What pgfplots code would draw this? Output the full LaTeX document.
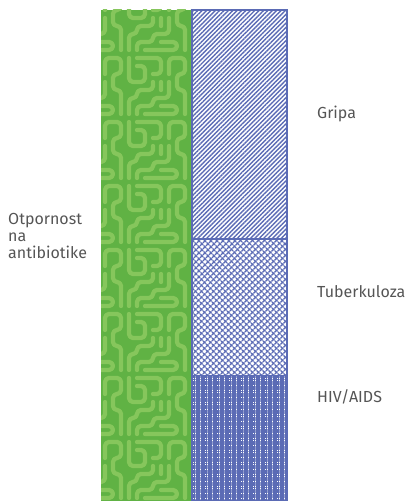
\documentclass[border=0pt]{standalone}
\usepackage{fontspec}
\setmainfont{Fira Sans}
\usepackage{pgfplots}
\pgfplotsset{compat=1.18}
\usetikzlibrary{patterns,patterns.meta}
\definecolor{dkgreen}{RGB}{96,178,68}
\definecolor{ltgreen}{RGB}{134,198,92}
\definecolor{blueC}{RGB}{91,107,181}
\definecolor{txtC}{RGB}{85,85,85}
\newcommand{\mz}[2]{\pgfqpoint{\dimexpr 8pt*#1+1pt\relax}{\dimexpr 8pt*#2+4pt\relax}}
\pgfdeclarepatternformonly{maze}{\pgfqpoint{-3pt}{-3pt}}{\pgfqpoint{67pt}{67pt}}{\pgfqpoint{64pt}{64pt}}{%
  \pgfsetlinewidth{4.3pt}\pgfsetroundcap\pgfsetroundjoin
  \pgfsetcornersarced{\pgfqpoint{4pt}{4pt}}%
  \pgfpathmoveto{\mz07}\pgfpathlineto{\mz04}\pgfpathlineto{\mz24}\pgfpathlineto{\mz26}\pgfpathlineto{\mz16}%
  \pgfpathmoveto{\mz17}\pgfpathlineto{\mz47}\pgfpathlineto{\mz45}\pgfpathlineto{\mz35}%
  \pgfpathmoveto{\mz00}\pgfpathlineto{\mz02}\pgfpathlineto{\mz12}\pgfpathlineto{\mz13}\pgfpathlineto{\mz33}\pgfpathlineto{\mz34}%
  \pgfpathmoveto{\mz10}\pgfpathlineto{\mz11}\pgfpathlineto{\mz31}\pgfpathlineto{\mz32}\pgfpathlineto{\mz52}\pgfpathlineto{\mz54}%
  \pgfpathmoveto{\mz20}\pgfpathlineto{\mz60}\pgfpathlineto{\mz61}\pgfpathlineto{\mz41}%
  \pgfpathmoveto{\mz70}\pgfpathlineto{\mz73}\pgfpathlineto{\mz63}\pgfpathlineto{\mz65}\pgfpathlineto{\mz75}\pgfpathlineto{\mz77}\pgfpathlineto{\mz57}\pgfpathlineto{\mz55}%
  \pgfpathmoveto{\mz43}\pgfpathlineto{\mz44}%
  \pgfusepath{stroke}%
}
\newcommand{\lab}{\fontsize{16}{17.5}\selectfont}
\begin{document}
\begin{tikzpicture}
\pgfplotsset{base/.style={hide axis, scale only axis, width=407pt, height=502pt,
  xmin=0, xmax=407, ymin=-1.3, ymax=500.7, clip=false}}
\begin{axis}[base, ybar, bar width=92]
\addplot[fill=dkgreen, draw=none, bar shift=0pt,
  postaction={pattern=maze, pattern color=ltgreen}] coordinates {(147,490.7)};
\node[anchor=base west, font=\lab, text=txtC, inner sep=0pt] at (axis cs:8,275.7) {Otpornost};
\node[anchor=base west, font=\lab, text=txtC, inner sep=0pt] at (axis cs:8,258.7) {na};
\node[anchor=base west, font=\lab, text=txtC, inner sep=0pt] at (axis cs:8,241.7) {antibiotike};
\node[anchor=base west, font=\lab, text=txtC, inner sep=0pt] at (axis cs:317,381.7) {Gripa};
\node[anchor=base west, font=\lab, text=txtC, inner sep=0pt] at (axis cs:317,202.7) {Tuberkuloza};
\node[anchor=base west, font=\lab, text=txtC, inner sep=0pt] at (axis cs:317,97.7) {HIV/AIDS};
\end{axis}
\begin{axis}[base, ybar stacked, bar width=95]
% HIV/AIDS
\addplot[draw=blueC, line width=1.5pt,
  preaction={pattern={Lines[angle=90,distance=2.4pt,line width=1.8pt]}, pattern color=blueC},
  pattern={Lines[angle=0,distance=2.4pt,line width=1.8pt]}, pattern color=blueC] coordinates {(239.5,125)};
% Tuberkuloza
\addplot[draw=blueC, line width=1.5pt,
  preaction={pattern={Lines[angle=-45,distance=4pt,line width=1.6pt]}, pattern color=blueC},
  pattern={Lines[angle=45,distance=4pt,line width=1.6pt]}, pattern color=blueC] coordinates {(239.5,136.7)};
% Gripa
\addplot[draw=blueC, line width=1.5pt,
  pattern={Lines[angle=45,distance=3.1pt,line width=1.4pt]}, pattern color=blueC] coordinates {(239.5,229)};
\end{axis}
\path[use as bounding box] (0,0) rectangle (407pt,502pt);
\end{tikzpicture}
\end{document}
